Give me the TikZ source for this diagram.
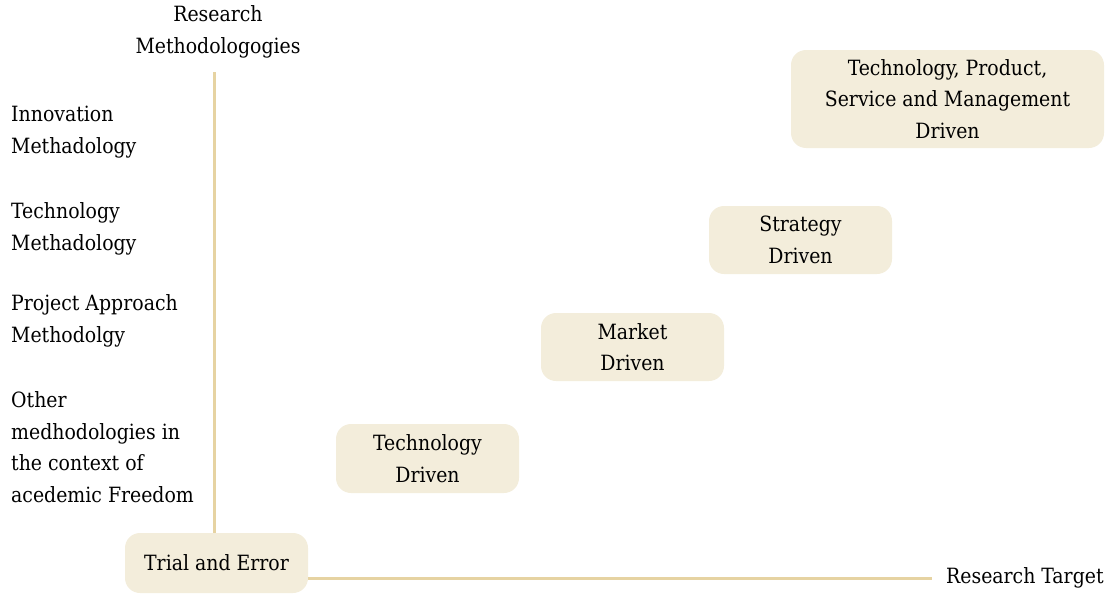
\documentclass[tikz,border=0pt]{standalone}
\usepackage{fontspec}
\setmainfont{DejaVu Serif Condensed}
\begin{document}
\begin{tikzpicture}[x=1pt,y=-1pt,
  txt/.style={font=\fontsize{21}{31.5}\selectfont, text=black, inner sep=0pt},
  box/.style={txt, fill=boxfill, rounded corners=15pt, align=center, minimum width=183pt},
  axis/.style={draw=axiscol, line width=3pt}]
\definecolor{boxfill}{HTML}{F3EDDB}
\definecolor{axiscol}{HTML}{E6D3A2}
\useasboundingbox (0,0) rectangle (1114,597);
% labels
\node[txt, align=center] (title) at (218,32) {Research\\Methodologogies};
\node[txt, align=left, anchor=west] (l1) at (11,132) {Innovation\\Methadology};
\node[txt, align=left, anchor=west] (l2) at (11,229) {Technology\\Methadology};
\node[txt, align=left, anchor=west] (l3) at (11,321) {Project Approach\\Methodolgy};
\node[txt, align=left, anchor=west] (l4) at (11,447) {Other\\medhodologies in\\the context of\\acedemic Freedom};
\node[txt, anchor=west] (rt) at (946,578) {Research Target};
% boxes
\node[box, minimum height=60pt] (trial) at (216.5,563) {Trial and Error};
\node[box, minimum height=69pt] (tech) at (427.5,458.5) {Technology\\Driven};
\node[box, minimum height=68pt] (market) at (632.5,347) {Market\\Driven};
\node[box, minimum height=68pt] (strat) at (800.5,240) {Strategy\\Driven};
\node[box, minimum width=313pt, minimum height=98pt] (top) at (947.5,99) {Technology, Product,\\Service and Management\\Driven};
% axes
\coordinate (vtop) at (214,72);
\coordinate (hend) at (932,578);
\draw[axis] (vtop) -- (vtop |- trial.north);
\draw[axis] (trial.east |- hend) -- (hend);
\end{tikzpicture}
\end{document}
